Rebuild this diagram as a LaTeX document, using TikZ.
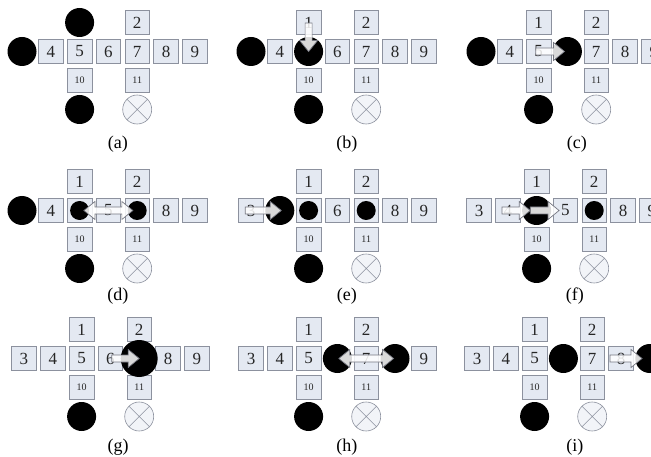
\documentclass[tikz,border=0pt]{standalone}
\usepackage{fontspec}
\setmainfont{Liberation Serif}
\usetikzlibrary{calc}

\definecolor{cellfill}{RGB}{228,233,242}
\definecolor{celledge}{RGB}{140,145,158}
\definecolor{arrowedge}{RGB}{118,120,130}

% hollow block arrow from #1 to the tip #2
\newcommand{\blockarrow}[2]{%
  \coordinate (hd) at ($(#2.center)!11pt!(#1.center)$);
  \draw[hollow] ($(#1.center)!3.5pt!90:(#2.center)$) -- ($(hd)!3.5pt!90:(#2.center)$)
    -- ($(hd)!9pt!90:(#2.center)$) -- (#2.center) -- ($(hd)!9pt!-90:(#2.center)$)
    -- ($(hd)!3.5pt!-90:(#2.center)$) -- ($(#1.center)!3.5pt!-90:(#2.center)$) -- cycle;}
% hollow block arrow with a head at both ends
\newcommand{\blockdarrow}[2]{%
  \coordinate (hd) at ($(#2.center)!11pt!(#1.center)$);
  \coordinate (tl) at ($(#1.center)!11pt!(#2.center)$);
  \draw[hollow] (#1.center) -- ($(tl)!9pt!90:(#2.center)$) -- ($(tl)!3.5pt!90:(#2.center)$)
    -- ($(hd)!3.5pt!90:(#2.center)$) -- ($(hd)!9pt!90:(#2.center)$) -- (#2.center)
    -- ($(hd)!9pt!-90:(#2.center)$) -- ($(hd)!3.5pt!-90:(#2.center)$)
    -- ($(tl)!3.5pt!-90:(#2.center)$) -- ($(tl)!9pt!-90:(#2.center)$) -- cycle;}

\begin{document}
\begin{tikzpicture}[x=1pt, y=-1pt,
    cell/.style={draw=celledge, fill=cellfill, line width=0.6pt, minimum width=24.5pt,
      minimum height=24pt, inner sep=0pt, text=black!85, font=\fontsize{17}{17}\selectfont},
    smallcell/.style={cell, font=\fontsize{10}{10}\selectfont},
    ball/.style={circle, fill=black, inner sep=0pt, minimum size=29pt},
    midball/.style={ball, minimum size=19pt},
    bigball/.style={ball, minimum size=37pt},
    blocked/.style={circle, draw=celledge, fill=cellfill!50, line width=0.6pt, inner sep=0pt, minimum size=29pt},
    crossline/.style={draw=celledge, line width=0.6pt},
    hollow/.style={draw=arrowedge, fill=white, fill opacity=0.85, line width=0.7pt, line join=miter},
    caption/.style={font=\fontsize{18}{18}\selectfont},
    panel/.style 2 args={shift={(#1-64.4,#2-6.5)}, x=28.8pt, y=-29pt}]
  \useasboundingbox (0,0) rectangle (651,457);
  \fill[white] (0,0) rectangle (651,457);
  \clip (0,0) rectangle (651,457);

  % (a)
  \begin{scope}[panel={0}{0}]
    \node[cell] (a2) at (7,1) {2};
    \foreach \c in {4,...,9} \node[cell] (a\c) at (\c,2) {\c};
    \node[smallcell] (a10) at (5,3) {10};
    \node[smallcell] (a11) at (7,3) {11};
    \node[ball] (ab1) at (5,1) {};
    \node[ball] (ab3) at (3,2) {};
    \node[ball] (ab10) at (5,4) {};
    \node[blocked] (ax) at (7,4) {};
    \draw[crossline] (ax.45) -- (ax.225) (ax.135) -- (ax.315);
    \node[caption] (acap) at (6.33,5.2) {(a)};
  \end{scope}

  % (b)
  \begin{scope}[panel={229}{0}]
    \node[cell] (b1) at (5,1) {1};
    \node[cell] (b2) at (7,1) {2};
    \foreach \c in {4,6,7,8,9} \node[cell] (b\c) at (\c,2) {\c};
    \node[smallcell] (b10) at (5,3) {10};
    \node[smallcell] (b11) at (7,3) {11};
    \node[ball] (bb3) at (3,2) {};
    \node[ball] (bb5) at (5,2) {};
    \node[ball] (bb10) at (5,4) {};
    \node[blocked] (bx) at (7,4) {};
    \draw[crossline] (bx.45) -- (bx.225) (bx.135) -- (bx.315);
    \coordinate (bs) at ($(b1)+(0,0.02)$);
    \blockarrow{bs}{bb5}
    \node[caption] (bcap) at (6.33,5.2) {(b)};
  \end{scope}

  % (c)
  \begin{scope}[panel={459}{0}]
    \node[cell] (c1) at (5,1) {1};
    \node[cell] (c2) at (7,1) {2};
    \foreach \c in {4,5,7,8,9} \node[cell] (c\c) at (\c,2) {\c};
    \node[smallcell] (c10) at (5,3) {10};
    \node[smallcell] (c11) at (7,3) {11};
    \node[ball] (cb3) at (3,2) {};
    \node[ball] (cb6) at (6,2) {};
    \node[ball] (cb10) at (5,4) {};
    \node[blocked] (cx) at (7,4) {};
    \draw[crossline] (cx.45) -- (cx.225) (cx.135) -- (cx.315);
    \coordinate (cs) at ($(c5)+(-0.1,0)$);
    \coordinate (ct) at ($(cb6)+(-0.1,0)$);
    \blockarrow{cs}{ct}
    \node[caption] (ccap) at (6.33,5.2) {(c)};
  \end{scope}

  % (d)
  \begin{scope}[panel={0}{159}]
    \node[cell] (d1) at (5,1) {1};
    \node[cell] (d2) at (7,1) {2};
    \node[cell] (d4) at (4,2) {4};
    \node[cell] (d5) at (5,2) {};
    \node[cell] (d6) at (6,2) {5};
    \node[cell] (d7) at (7,2) {};
    \node[cell] (d8) at (8,2) {8};
    \node[cell] (d9) at (9,2) {9};
    \node[smallcell] (d10) at (5,3) {10};
    \node[smallcell] (d11) at (7,3) {11};
    \node[ball] (db3) at (3,2) {};
    \node[midball] (db5) at (5,2) {};
    \node[midball] (db7) at (7,2) {};
    \node[ball] (db10) at (5,4) {};
    \node[blocked] (dx) at (7,4) {};
    \draw[crossline] (dx.45) -- (dx.225) (dx.135) -- (dx.315);
    \coordinate (ds) at ($(db5)+(0.15,0)$);
    \coordinate (dt) at ($(db7)+(-0.15,0)$);
    \blockdarrow{ds}{dt}
    \node[caption] (dcap) at (6.33,4.95) {(d)};
  \end{scope}

  % (e)
  \begin{scope}[panel={229}{159}]
    \node[cell] (e1) at (5,1) {1};
    \node[cell] (e2) at (7,1) {2};
    \node[cell] (e3) at (3,2) {3};
    \node[cell] (e5) at (5,2) {};
    \node[cell] (e6) at (6,2) {6};
    \node[cell] (e7) at (7,2) {};
    \node[cell] (e8) at (8,2) {8};
    \node[cell] (e9) at (9,2) {9};
    \node[smallcell] (e10) at (5,3) {10};
    \node[smallcell] (e11) at (7,3) {11};
    \node[ball] (eb4) at (4,2) {};
    \node[midball] (eb5) at (5,2) {};
    \node[midball] (eb7) at (7,2) {};
    \node[ball] (eb10) at (5,4) {};
    \node[blocked] (ex) at (7,4) {};
    \draw[crossline] (ex.45) -- (ex.225) (ex.135) -- (ex.315);
    \coordinate (es) at ($(e3)+(-0.2,0)$);
    \coordinate (et) at ($(eb4)+(0.05,0)$);
    \blockarrow{es}{et}
    \node[caption] (ecap) at (6.33,4.95) {(e)};
  \end{scope}

  % (f)
  \begin{scope}[panel={457}{159}]
    \node[cell] (f1) at (5,1) {1};
    \node[cell] (f2) at (7,1) {2};
    \node[cell] (f3) at (3,2) {3};
    \node[cell] (f4) at (4,2) {4};
    \node[cell] (f6) at (6,2) {5};
    \node[cell] (f7) at (7,2) {};
    \node[cell] (f8) at (8,2) {8};
    \node[cell] (f9) at (9,2) {9};
    \node[smallcell] (f10) at (5,3) {10};
    \node[smallcell] (f11) at (7,3) {11};
    \node[ball] (fb5) at (5,2) {};
    \node[midball] (fb7) at (7,2) {};
    \node[ball] (fb10) at (5,4) {};
    \node[blocked] (fx) at (7,4) {};
    \draw[crossline] (fx.45) -- (fx.225) (fx.135) -- (fx.315);
    \coordinate (fs) at ($(f4)+(-0.2,0)$);
    \coordinate (fm) at ($(fb5)+(-0.22,0)$);
    \coordinate (ft) at ($(f6)+(-0.22,0)$);
    \blockarrow{fm}{ft}
    \blockarrow{fs}{fm}
    \node[caption] (fcap) at (6.33,4.95) {(f)};
  \end{scope}

  % (g)
  \begin{scope}[panel={2}{307}]
    \node[cell] (g1) at (5,1) {1};
    \node[cell] (g2) at (7,1) {2};
    \foreach \c in {3,4,5,6,8,9} \node[cell] (g\c) at (\c,2) {\c};
    \node[smallcell] (g10) at (5,3) {10};
    \node[smallcell] (g11) at (7,3) {11};
    \node[bigball] (gb7) at (7,2) {};
    \node[ball] (gb10) at (5,4) {};
    \node[blocked] (gx) at (7,4) {};
    \draw[crossline] (gx.45) -- (gx.225) (gx.135) -- (gx.315);
    \coordinate (gs) at ($(g6)+(0.05,0)$);
    \blockarrow{gs}{gb7}
    \node[caption] (gcap) at (6.27,5.05) {(g)};
  \end{scope}

  % (h)
  \begin{scope}[panel={229}{307}]
    \node[cell] (h1) at (5,1) {1};
    \node[cell] (h2) at (7,1) {2};
    \foreach \c in {3,4,5,7,9} \node[cell] (h\c) at (\c,2) {\c};
    \node[smallcell] (h10) at (5,3) {10};
    \node[smallcell] (h11) at (7,3) {11};
    \node[ball] (hb6) at (6,2) {};
    \node[ball] (hb8) at (8,2) {};
    \node[ball] (hb10) at (5,4) {};
    \node[blocked] (hx) at (7,4) {};
    \draw[crossline] (hx.45) -- (hx.225) (hx.135) -- (hx.315);
    \coordinate (hs) at ($(hb6)+(0.05,0)$);
    \coordinate (ht) at ($(hb8)+(-0.05,0)$);
    \blockdarrow{hs}{ht}
    \node[caption] (hcap) at (6.33,5.05) {(h)};
  \end{scope}

  % (i)
  \begin{scope}[panel={455}{307}]
    \node[cell] (i1) at (5,1) {1};
    \node[cell] (i2) at (7,1) {2};
    \foreach \c in {3,4,5,7,8} \node[cell] (i\c) at (\c,2) {\c};
    \node[smallcell] (i10) at (5,3) {10};
    \node[smallcell] (i11) at (7,3) {11};
    \node[ball] (ib6) at (6,2) {};
    \node[ball] (ib9) at (9,2) {};
    \node[ball] (ib10) at (5,4) {};
    \node[blocked] (ix) at (7,4) {};
    \draw[crossline] (ix.45) -- (ix.225) (ix.135) -- (ix.315);
    \coordinate (is) at ($(i8)+(-0.38,0)$);
    \coordinate (it) at ($(ib9)+(-0.27,0)$);
    \blockarrow{is}{it}
    \node[caption] (icap) at (6.4,5.05) {(i)};
  \end{scope}
\end{tikzpicture}
\end{document}
